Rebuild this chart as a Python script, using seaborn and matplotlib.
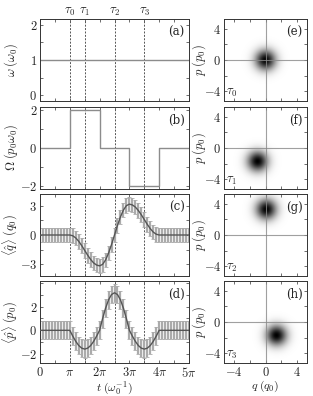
import numpy as np
import matplotlib
matplotlib.use("Agg")
import matplotlib.pyplot as plt
from matplotlib.ticker import MultipleLocator
import seaborn as sns

sns.set_style("ticks")
plt.rcParams["mathtext.fontset"] = "cm"
plt.rcParams["font.family"] = ["DejaVu Serif"]
plt.rcParams["font.size"] = 9

# --- data ---
tau_labels = [r"$\tau_0$", r"$\tau_1$", r"$\tau_2$", r"$\tau_3$"]
tau = np.array([1.0, 1.5, 2.5, 3.5]) * np.pi

omega_t = np.array([0, 5]) * np.pi
omega_v = [1, 1]

drive_t = np.array([0, 1, 1, 2, 2, 3, 3, 4, 4, 5]) * np.pi
drive_v = [0, 0, 2, 2, 0, 0, -2, -2, 0, 0]

# sampled every pi/10 from 0 to 5pi
t_k = np.arange(51)
q_mean = [0, 0, 0, 0, 0, 0, 0, 0, 0, 0, 0,
          -0.08, -0.30, -0.65, -1.09, -1.58, -2.07, -2.51, -2.86, -3.08, -3.16,
          -3.01, -2.56, -1.86, -0.98, 0.0, 0.98, 1.86, 2.56, 3.01, 3.16,
          3.08, 2.86, 2.51, 2.07, 1.58, 1.09, 0.65, 0.30, 0.08, 0.0,
          0, 0, 0, 0, 0, 0, 0, 0, 0, 0]
p_mean = [0, 0, 0, 0, 0, 0, 0, 0, 0, 0, 0,
          -0.49, -0.93, -1.28, -1.50, -1.58, -1.50, -1.28, -0.93, -0.49, 0.0,
          0.98, 1.86, 2.56, 3.01, 3.16, 3.01, 2.56, 1.86, 0.98, 0.0,
          -0.49, -0.93, -1.28, -1.50, -1.58, -1.50, -1.28, -0.93, -0.49, 0.0,
          0, 0, 0, 0, 0, 0, 0, 0, 0, 0]
q_err = 0.75
p_err = 0.75

# Wigner function centres at tau_0..tau_3
w_q = [0.0, -1.0, 0.1, 1.4]
w_p = [0.0, -1.7, 3.3, -1.7]
w_sigma = 0.9
panel_left = ["(a)", "(b)", "(c)", "(d)"]
panel_right = ["(e)", "(f)", "(g)", "(h)"]

t = t_k * np.pi / 10

fig = plt.figure(figsize=(3.13, 3.96), dpi=100)
W, H = 313, 396
rows = [(19, 101), (107, 189), (194, 276), (281, 363)]


def box(x0, x1, y0, y1):
    return [x0 / W, 1 - y1 / H, (x1 - x0) / W, (y1 - y0) / H]


left_axes = [fig.add_axes(box(40, 189, *r)) for r in rows]
right_axes = [fig.add_axes(box(224, 307, *r)) for r in rows]

frame = "#333333"
dash = "#555555"
line_c = "#8c8c8c"

for ax in left_axes + right_axes:
    for s in ax.spines.values():
        s.set_color(frame)
        s.set_linewidth(0.7)
    ax.tick_params(direction="in", top=True, right=True, length=2.5, width=0.5,
                   color=frame, labelsize=9, pad=2)
    ax.tick_params(which="minor", direction="in", top=True, right=True,
                   length=2.5, width=0.5, color=frame)

pi_labels = ["$0$", r"$\pi$", r"$2\pi$", r"$3\pi$", r"$4\pi$", r"$5\pi$"]
for i, ax in enumerate(left_axes):
    ax.set_xlim(0, 5 * np.pi)
    ax.set_xticks(np.arange(6) * np.pi)
    ax.xaxis.set_minor_locator(MultipleLocator(np.pi / 2))
    if i == 3:
        ax.set_xticklabels(pi_labels)
    else:
        ax.set_xticklabels([])
    for x in tau:
        ax.axvline(x, color=dash, lw=0.7, ls=(0, (2, 1.5)), zorder=1)
    ax.text(0.97, 0.92, panel_left[i], transform=ax.transAxes, ha="right",
            va="top", fontsize=8.5)
    ax.yaxis.set_label_coords(-0.135, 0.5)

ax = left_axes[0]
sns.lineplot(x=omega_t, y=omega_v, color=line_c, lw=1, ax=ax)
ax.set_ylim(-0.17, 2.17)
ax.set_yticks([0, 1, 2])
ax.set_yticklabels(["$0$", "$1$", "$2$"])
ax.yaxis.set_minor_locator(MultipleLocator(0.5))
ax.set_ylabel(r"$\omega\;(\omega_0)$")
for x, lab in zip(tau, tau_labels):
    ax.text(x, 2.2, lab, ha="center", va="bottom", fontsize=9)

ax = left_axes[1]
sns.lineplot(x=drive_t, y=drive_v, color=line_c, lw=1, ax=ax, sort=False,
             estimator=None)
ax.set_ylim(-2.15, 2.15)
ax.set_yticks([-2, 0, 2])
ax.set_yticklabels(["$-2$", "$0$", "$2$"])
ax.yaxis.set_minor_locator(MultipleLocator(1))
ax.set_ylabel(r"$\Omega\;(p_0\omega_0)$")

ax = left_axes[2]
ax.errorbar(t, q_mean, yerr=q_err, fmt="none", ecolor="#ababab", elinewidth=1.6,
            capsize=1.3, capthick=0.6, zorder=2)
sns.lineplot(x=t, y=q_mean, color="#555555", lw=1, ax=ax, zorder=3)
ax.set_ylim(-4.2, 4.2)
ax.set_yticks([-3, 0, 3])
ax.set_yticklabels(["$-3$", "$0$", "$3$"])
ax.yaxis.set_minor_locator(MultipleLocator(1.5))
ax.set_ylabel(r"$\langle\hat{q}\rangle\;(q_0)$")

ax = left_axes[3]
ax.errorbar(t, p_mean, yerr=p_err, fmt="none", ecolor="#ababab", elinewidth=1.6,
            capsize=1.3, capthick=0.6, zorder=2)
sns.lineplot(x=t, y=p_mean, color="#555555", lw=1, ax=ax, zorder=3)
ax.set_ylim(-2.75, 4.15)
ax.set_yticks([-2, 0, 2])
ax.set_yticklabels(["$-2$", "$0$", "$2$"])
ax.yaxis.set_minor_locator(MultipleLocator(1))
ax.set_ylabel(r"$\langle\hat{p}\rangle\;(p_0)$")
ax.set_xlabel(r"$t\;(\omega_0^{-1})$", labelpad=0, fontsize=8.5)

lim = 5.25
grid = np.linspace(-lim, lim, 300)
Q, P = np.meshgrid(grid, grid)
for i, ax in enumerate(right_axes):
    wig = np.exp(-((Q - w_q[i]) ** 2 + (P - w_p[i]) ** 2) / (2 * w_sigma ** 2))
    ax.imshow(wig, extent=[-lim, lim, -lim, lim], origin="lower", cmap="gray_r",
              vmin=0, vmax=1, interpolation="bilinear", aspect="auto")
    ax.axhline(0, color="#888888", lw=0.8, alpha=0.8)
    ax.axvline(0, color="#888888", lw=0.8, alpha=0.8)
    ax.set_xlim(-lim, lim)
    ax.set_ylim(-lim, lim)
    ax.set_xticks([-4, 0, 4])
    ax.set_yticks([-4, 0, 4])
    ax.xaxis.set_minor_locator(MultipleLocator(2))
    ax.yaxis.set_minor_locator(MultipleLocator(2))
    ax.set_yticklabels(["$-4$", "$0$", "$4$"])
    if i == 3:
        ax.set_xticklabels(["$-4$", "$0$", "$4$"])
        ax.set_xlabel(r"$q\;(q_0)$", labelpad=0, fontsize=8.5)
    else:
        ax.set_xticklabels([])
    ax.set_ylabel(r"$p\;(p_0)$")
    ax.yaxis.set_label_coords(-0.19, 0.5)
    ax.text(0.95, 0.92, panel_right[i], transform=ax.transAxes, ha="right",
            va="top", fontsize=8.5)
    ax.text(0.03, 0.02, tau_labels[i], transform=ax.transAxes, ha="left",
            va="bottom", fontsize=9)

fig.savefig("out.png", dpi=100)
